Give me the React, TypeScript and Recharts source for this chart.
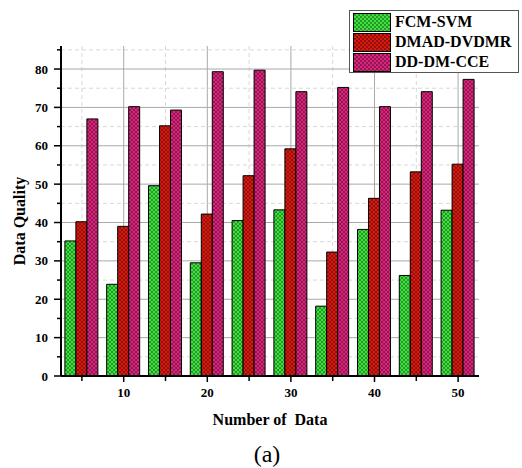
import React from 'react';
import { BarChart, Bar, XAxis, YAxis, CartesianGrid, Legend } from 'recharts';

const categories = ['5', '10', '15', '20', '25', '30', '35', '40', '45', '50'];
const seriesNames = ['FCM-SVM', 'DMAD-DVDMR', 'DD-DM-CCE'];
const fcmSvm = [35.2, 23.9, 49.6, 29.5, 40.5, 43.3, 18.2, 38.2, 26.2, 43.2];
const dmadDvdmr = [40.2, 39.0, 65.2, 42.2, 52.2, 59.2, 32.3, 46.3, 53.2, 55.2];
const ddDmCce = [67.0, 70.2, 69.3, 79.3, 79.7, 74.1, 75.2, 70.2, 74.1, 77.3];
const yTicks = [0, 5, 10, 15, 20, 25, 30, 35, 40, 45, 50, 55, 60, 65, 70, 75, 80, 85];
const yMajorGrid = [10, 20, 30, 40, 50, 60, 70, 80];
const yMinorGrid = [5, 15, 25, 35, 45, 55, 65, 75, 85];
const xMajorGrid = ['10', '20', '30', '40', '50'];
const xMinorGrid = ['5', '15', '25', '35', '45'];

const data = categories.map((c, i) => ({
  n: c,
  fcm: fcmSvm[i],
  dmad: dmadDvdmr[i],
  dd: ddDmCce[i],
}));

const SERIF = '"Liberation Serif", "Times New Roman", serif';

const XTick = (props: any) => {
  const { x, y, payload } = props;
  const v = Number(payload.value);
  const major = v % 10 === 0;
  return (
    <g>
      <line x1={x} x2={x} y1={y} y2={y + (major ? 6 : 5)} stroke="#000" strokeWidth={1.5} />
      {major && (
        <text x={x} y={y + 21} textAnchor="middle" fontFamily={SERIF} fontWeight="bold" fontSize={13} fill="#000">
          {v}
        </text>
      )}
    </g>
  );
};

const YTick = (props: any) => {
  const { x, y, payload } = props;
  const v = Number(payload.value);
  const major = v % 10 === 0;
  return (
    <g>
      <line x1={x - (major ? 7 : 4)} x2={x} y1={y} y2={y} stroke="#000" strokeWidth={1.5} />
      {major && (
        <text x={x - 13} y={y + 4.5} textAnchor="end" fontFamily={SERIF} fontWeight="bold" fontSize={13} fill="#000">
          {v}
        </text>
      )}
    </g>
  );
};

const LegendBox = (props: any) => {
  const payload = [...(props.payload || [])].sort(
    (a: any, b: any) => seriesNames.indexOf(a.value) - seriesNames.indexOf(b.value)
  );
  return (
    <div
      style={{
        border: '1px solid #555',
        background: '#fff',
        width: 170,
        height: 63,
        boxSizing: 'border-box',
        padding: '1px 3px',
      }}
    >
      {payload.map((e: any) => (
        <div key={e.value} style={{ display: 'flex', alignItems: 'center', height: 20 }}>
          <svg width={38} height={19} style={{ display: 'block' }}>
            <rect x={0.5} y={0.5} width={37} height={18} fill={e.color || (e.payload && e.payload.fill)} stroke="#000" strokeWidth={1} />
          </svg>
          <span style={{ marginLeft: 4, fontFamily: SERIF, fontWeight: 'bold', fontSize: 16, color: '#000', lineHeight: '20px' }}>
            {e.value}
          </span>
        </div>
      ))}
    </div>
  );
};

const Pattern = ({ id, fill, line }: { id: string; fill: string; line: string }) => (
  <pattern id={id} patternUnits="userSpaceOnUse" width={4} height={4}>
    <rect x={0} y={0} width={4} height={4} fill={fill} />
    <path d="M0,0 L4,4 M4,0 L0,4" stroke={line} strokeWidth={0.7} />
  </pattern>
);

export default function App() {
  return (
    <div style={{ position: 'absolute', left: 0, top: 0, width: 522, height: 468, background: '#fff' }}>
      <svg width={0} height={0} style={{ position: 'absolute' }}>
        <defs>
          <Pattern id="patGreen" fill="#3fe03f" line="#1a7a1a" />
          <Pattern id="patRed" fill="#d61c12" line="#7a0a06" />
          <Pattern id="patMagenta" fill="#d8267c" line="#7a1042" />
        </defs>
      </svg>
      <BarChart
        width={522}
        height={468}
        data={data}
        margin={{ top: 46, right: 43, bottom: 62, left: 1 }}
        barCategoryGap="9.3%"
        barGap={0}
      >
        <CartesianGrid horizontalValues={yMinorGrid} verticalValues={xMinorGrid} stroke="#d8d8d8" strokeDasharray="4 3" />
        <CartesianGrid horizontalValues={yMajorGrid} verticalValues={xMajorGrid} stroke="#a9a9a9" />
        <XAxis
          dataKey="n"
          height={30}
          interval={0}
          tickLine={false}
          tickSize={0}
          tickMargin={0}
          tick={<XTick />}
          axisLine={{ stroke: '#000', strokeWidth: 2 }}
        />
        <YAxis
          type="number"
          width={60}
          domain={[0, 86]}
          ticks={yTicks}
          interval={0}
          tickLine={false}
          tickSize={0}
          tickMargin={0}
          tick={<YTick />}
          axisLine={{ stroke: '#000', strokeWidth: 2 }}
          allowDataOverflow
        />
        <Legend
          layout="vertical"
          align="center"
          verticalAlign="middle"
          content={<LegendBox />}
          wrapperStyle={{ left: 349, top: 10, width: 170, height: 63 }}
        />
        <Bar dataKey="fcm" name="FCM-SVM" fill="url(#patGreen)" stroke="#000" strokeWidth={1} isAnimationActive={false} />
        <Bar dataKey="dmad" name="DMAD-DVDMR" fill="url(#patRed)" stroke="#000" strokeWidth={1} isAnimationActive={false} />
        <Bar dataKey="dd" name="DD-DM-CCE" fill="url(#patMagenta)" stroke="#000" strokeWidth={1} isAnimationActive={false} />
      </BarChart>
      <svg width={522} height={468} style={{ position: 'absolute', left: 0, top: 0, pointerEvents: 'none' }}>
        <text
          x={0}
          y={0}
          transform="translate(25,221) rotate(-90)"
          textAnchor="middle"
          fontFamily={SERIF}
          fontWeight="bold"
          fontSize={16}
          fill="#000"
        >
          Data Quality
        </text>
        <text x={270} y={425} textAnchor="middle" fontFamily={SERIF} fontWeight="bold" fontSize={16} fill="#000" style={{ whiteSpace: 'pre' }}>
          {'Number of  Data'}
        </text>
        <text x={267} y={462} textAnchor="middle" fontFamily={SERIF} fontSize={24} fill="#000">
          (a)
        </text>
      </svg>
    </div>
  );
}
